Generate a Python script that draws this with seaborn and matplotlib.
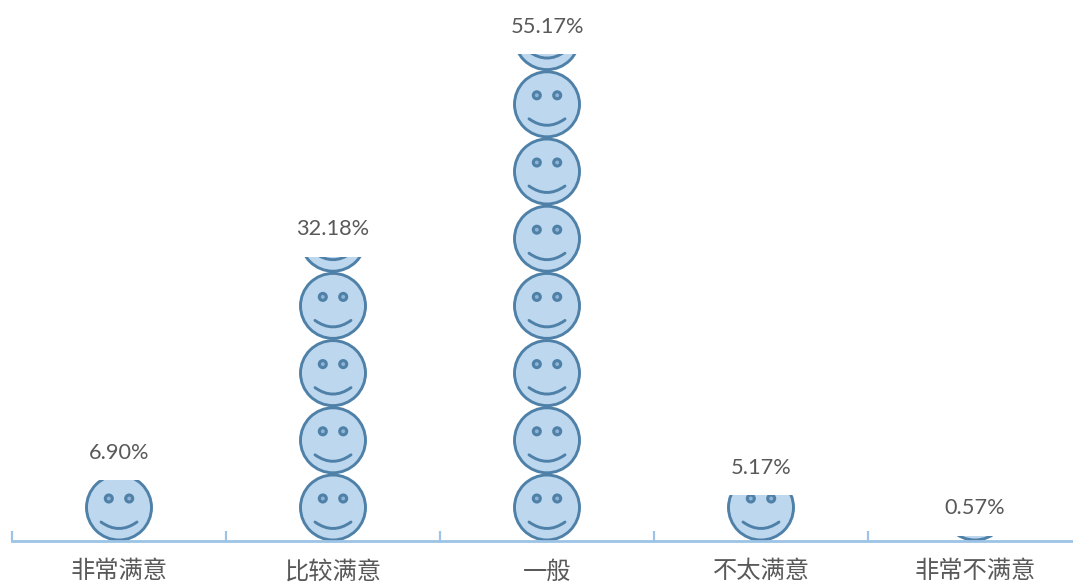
import matplotlib
matplotlib.use("Agg")
import matplotlib.pyplot as plt
from matplotlib.patches import Ellipse, PathPatch
from matplotlib.path import Path
import numpy as np
import pandas as pd
import seaborn as sns

categories = ["非常满意", "比较满意", "一般", "不太满意", "非常不满意"]
values = [6.90, 32.18, 55.17, 5.17, 0.57]
value_labels = ["6.90%", "32.18%", "55.17%", "5.17%", "0.57%"]

W, H = 1073, 583
LEFT, RIGHT, BASE = 12, 1082, 541
PX_PER_PCT = 8.827
PX_PER_CAT = (RIGHT - LEFT) / 5
FILL, EDGE, AXIS, TEXT = "#BDD7EE", "#4F81A8", "#9DC3E6", "#595959"

sns.set_theme(style="white")
plt.rcParams["font.family"] = ["Lato", "Noto Sans CJK SC", "DejaVu Sans"]

fig = plt.figure(figsize=(W / 100, H / 100), dpi=100, facecolor="white")
ax = fig.add_axes([LEFT / W, (H - BASE) / H, (RIGHT - LEFT) / W, BASE / H])
df = pd.DataFrame({"cat": categories, "val": values})
sns.barplot(data=df, x="cat", y="val", order=categories, color=FILL, width=0.42,
            saturation=1, errorbar=None, ax=ax, zorder=1)
ax.set_xlim(-0.5, 4.5)
ax.set_ylim(0, BASE / PX_PER_PCT)

dx = lambda p: p / PX_PER_CAT
dy = lambda p: p / PX_PER_PCT
R, PITCH = 32.5, 67.2
LW = 2.1

def smiley(cx, cy_px, clip):
    cy = dy(cy_px)
    parts = [Ellipse((cx, cy), dx(2 * R), dy(2 * R), fc=FILL, ec=EDGE, lw=LW)]
    for s in (-1, 1):
        parts.append(Ellipse((cx + s * dx(10.2), cy + dy(9)), dx(7), dy(7),
                             fc="#8FB4D6", ec=EDGE, lw=2.2))
    verts = [(cx - dx(18), cy - dy(14.5)), (cx, cy - dy(27.5)), (cx + dx(18), cy - dy(14.5))]
    parts.append(PathPatch(Path(verts, [Path.MOVETO, Path.CURVE3, Path.CURVE3]),
                           fc="none", ec=EDGE, lw=2.1, capstyle="round"))
    for p in parts:
        ax.add_patch(p)
        p.set_zorder(2)
        p.set_clip_path(clip)

bars = list(ax.patches)
for i, (bar, v, lab) in enumerate(zip(bars, values, value_labels)):
    bar.set_facecolor("none")
    bar.set_edgecolor("none")
    n = int(np.ceil(v * PX_PER_PCT / PITCH))
    for k in range(n):
        smiley(i, R + 1 + k * PITCH, bar)
    ax.annotate(lab, (i, v), xytext=(0, 27.5 * 72 / 100), textcoords="offset points",
                ha="center", va="center", fontsize=15.7, color=TEXT)

sns.despine(ax=ax, left=True, right=True, top=True)
ax.spines["bottom"].set_color(AXIS)
ax.spines["bottom"].set_linewidth(2.0)
ax.spines["bottom"].set_zorder(5)
ax.set_xlabel("")
ax.set_ylabel("")
ax.set_yticks([])
ax.set_xticks(range(5))
ax.set_xticklabels(categories)
ax.set_xticks(np.arange(-0.5, 5), minor=True)
ax.tick_params(axis="x", which="major", length=0, pad=13.5, labelsize=17.5, labelcolor=TEXT)
ax.tick_params(axis="x", which="minor", direction="in", length=7.5, width=1.6, color=AXIS, bottom=True)
for t in ax.xaxis.get_minorticklines():
    t.set_clip_on(False)

fig.savefig("out.png", dpi=100)
